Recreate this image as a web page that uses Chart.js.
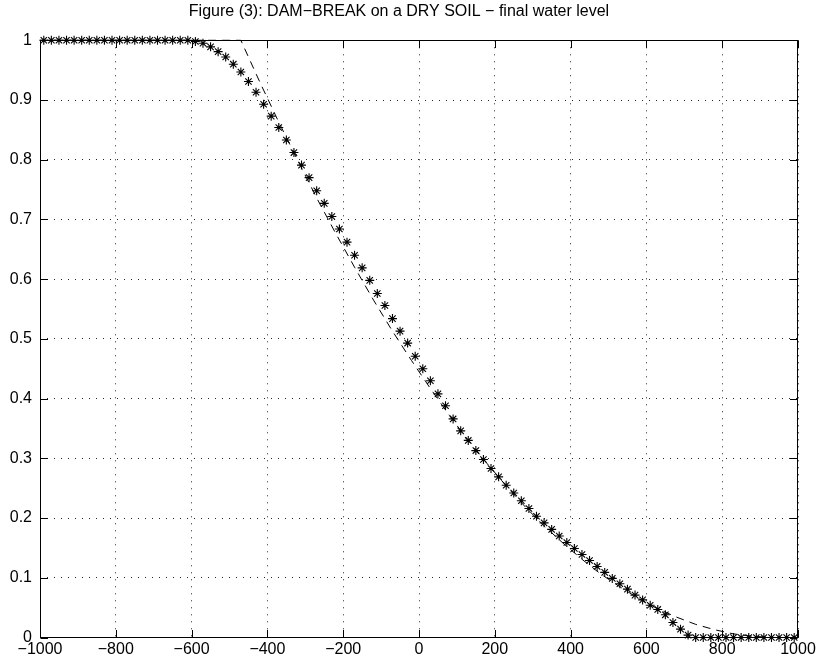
<!DOCTYPE html>
<html>
<head>
<meta charset="utf-8">
<script src="https://cdn.jsdelivr.net/npm/chart.js@4"></script>
<style>
  body { margin: 0; background: #fff; }
</style>
</head>
<body>
<canvas id="myChart" width="819" height="662"></canvas>
<script>
// numerical solution (stars)
const starX = [
  -990, -970, -950, -930, -910, -890, -870, -850, -830, -810,
  -790, -770, -750, -730, -710, -690, -670, -650, -630, -610,
  -590, -570, -550, -530, -510, -490, -470, -450, -430, -410,
  -390, -370, -350, -330, -310, -290, -270, -250, -230, -210,
  -190, -170, -150, -130, -110, -90, -70, -50, -30, -10,
  10, 30, 50, 70, 90, 110, 130, 150, 170, 190,
  210, 230, 250, 270, 290, 310, 330, 350, 370, 390,
  410, 430, 450, 470, 490, 510, 530, 550, 570, 590,
  610, 630, 650, 670, 690, 710, 730, 750, 770, 790,
  810, 830, 850, 870, 890, 910, 930, 950, 970, 990
];
const starY = [
  1, 1, 1, 1, 1, 1, 1, 1, 1, 1,
  1, 1, 1, 1, 1, 1, 1, 1, 1, 1,
  0.998, 0.995, 0.989, 0.981, 0.972, 0.960, 0.947, 0.931, 0.913, 0.893,
  0.873, 0.854, 0.833, 0.812, 0.791, 0.770, 0.748, 0.727, 0.705, 0.684,
  0.662, 0.640, 0.619, 0.598, 0.576, 0.556, 0.534, 0.513, 0.493, 0.471,
  0.450, 0.430, 0.408, 0.388, 0.366, 0.346, 0.330, 0.313, 0.298, 0.283,
  0.269, 0.255, 0.242, 0.229, 0.216, 0.203, 0.192, 0.181, 0.170, 0.159,
  0.149, 0.139, 0.129, 0.119, 0.109, 0.099, 0.090, 0.081, 0.071, 0.063,
  0.054, 0.047, 0.038, 0.025, 0.014, 0.004, 0, 0, 0, 0,
  0, 0, 0, 0, 0, 0, 0, 0, 0, 0
];
// exact solution (dashed)
const exactX = [-1000, -470, -420, -370, -320, -270, -220, -170, -120, -70, -20, 30, 80, 130, 180,
  230, 280, 330, 380, 430, 480, 530, 580, 630, 680, 730, 780, 830, 880, 940, 1000];
const exactY = [1, 1, 0.930, 0.863, 0.799, 0.736, 0.677, 0.620, 0.565, 0.513, 0.464, 0.417, 0.372, 0.330, 0.291,
  0.254, 0.219, 0.187, 0.158, 0.131, 0.106, 0.085, 0.065, 0.048, 0.034, 0.022, 0.013, 0.006, 0.002, 0, 0];

const xTicks = [-1000, -800, -600, -400, -200, 0, 200, 400, 600, 800, 1000];
const yTicks = [0, 0.1, 0.2, 0.3, 0.4, 0.5, 0.6, 0.7, 0.8, 0.9, 1];

const font = { family: "'Liberation Sans', Helvetica, Arial, sans-serif", size: 16 };
const minus = (v) => String(v).replace("-", "\u2212");

// box round the plot with inward tick marks, like matlab
const boxTicks = {
  id: "boxTicks",
  beforeDatasetsDraw(chart) {
    const { ctx, chartArea: a, scales } = chart;
    const L = Math.round(a.left) + 0.5, R = Math.round(a.right) - 0.5;
    const T = Math.round(a.top) + 0.5, B = Math.round(a.bottom) - 0.5;
    const len = 7.5;
    ctx.save();
    ctx.strokeStyle = "#000";
    ctx.lineWidth = 1;
    ctx.strokeRect(L, T, R - L, B - T);
    ctx.beginPath();
    xTicks.forEach((v) => {
      const px = Math.round(scales.x.getPixelForValue(v)) + 0.5;
      ctx.moveTo(px, B); ctx.lineTo(px, B - len);
      ctx.moveTo(px, T); ctx.lineTo(px, T + len);
    });
    yTicks.forEach((v) => {
      const py = Math.round(scales.y.getPixelForValue(v)) + 0.5;
      ctx.moveTo(L, py); ctx.lineTo(L + len, py);
      ctx.moveTo(R, py); ctx.lineTo(R - len, py);
    });
    ctx.stroke();
    ctx.restore();
  }
};

const data = {
  datasets: [
    {
      label: "numerical",
      data: starX.map((x, i) => ({ x: x, y: starY[i] })),
      showLine: false,
      pointStyle: "star",
      pointRadius: 4.5,
      borderColor: "#000",
      backgroundColor: "#000",
      pointBorderWidth: 1.1,
      clip: false,
    },
    {
      label: "exact",
      data: exactX.map((x, i) => ({ x: x, y: exactY[i] })),
      showLine: true,
      pointRadius: 0,
      borderColor: "#000",
      borderWidth: 1,
      borderDash: [8, 6],
      clip: false,
    },
  ],
};

const options = {
  responsive: false,
  animation: false,
  devicePixelRatio: 1,
  layout: { padding: { left: 0, right: 21, top: 0, bottom: 0 } },
  plugins: {
    legend: { display: false },
    tooltip: { enabled: false },
    title: {
      display: true,
      text: "Figure (3): DAM\u2212BREAK on a DRY SOIL \u2212 final water level",
      color: "#000",
      font: { family: font.family, size: 16, weight: "normal" },
      padding: { top: 2, bottom: 19.1 },
    },
  },
  scales: {
    x: {
      type: "linear",
      min: -1000,
      max: 1000,
      afterBuildTicks: (scale) => { scale.ticks = xTicks.map((v) => ({ value: v })); },
      afterFit: (scale) => { scale.height = 24.5; },
      ticks: { color: "#000", font: font, padding: 2, maxRotation: 0, callback: (v) => minus(v) },
      grid: { color: "rgba(0,0,0,0.85)", lineWidth: 1, drawTicks: false },
      border: { display: false, dash: [1, 6] },
    },
    y: {
      type: "linear",
      min: 0,
      max: 1,
      afterBuildTicks: (scale) => { scale.ticks = yTicks.map((v) => ({ value: v })); },
      afterFit: (scale) => { scale.width = 40; },
      ticks: { color: "#000", font: font, padding: 8, callback: (v) => String(v) },
      grid: { color: "rgba(0,0,0,0.85)", lineWidth: 1, drawTicks: false },
      border: { display: false, dash: [1, 6] },
    },
  },
};

const chart = new Chart("myChart", {
  type: "scatter",
  data: data,
  options: options,
  plugins: [boxTicks],
});
</script>
</body>
</html>
